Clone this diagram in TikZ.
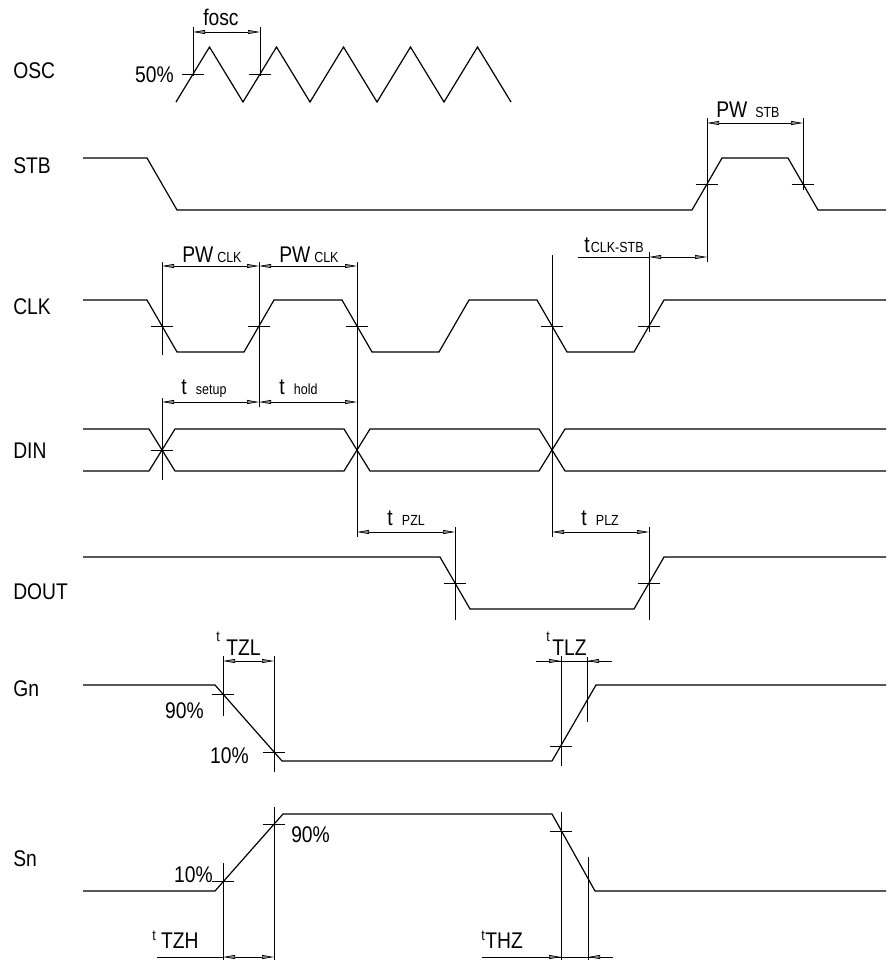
\documentclass[tikz,border=0pt]{standalone}
\usepackage{fontspec}
\setmainfont[FakeStretch=0.85]{Liberation Sans}
\usetikzlibrary{arrows.meta}
\newcommand{\bigf}{\fontsize{17}{17}\selectfont}
\newcommand{\smallf}{\fontsize{11}{11}\selectfont}
\newcommand{\tup}[1]{\raisebox{#1}{\smallf t}}
\tikzstyle{wave}=[draw,line width=0.9pt]
\tikzstyle{extline}=[draw,line width=0.5pt]
\tikzstyle{tick}=[draw,line width=0.5pt]
\tikzstyle{dimline}=[draw,line width=0.5pt,{Triangle[length=9pt,width=3pt,fill=black!45]}-{Triangle[length=9pt,width=3pt,fill=black!45]}]
\tikzstyle{dimtip}=[draw,line width=0.5pt,-{Triangle[length=9pt,width=3pt,fill=black!45]}]
\tikzstyle{signame}=[anchor=base west,inner sep=0pt,font=\bigf]
\tikzstyle{dimtext}=[anchor=base west,inner sep=0pt,font=\bigf]

\begin{document}
\begin{tikzpicture}[x=0.75pt,y=-0.75pt]
\useasboundingbox (0,0) rectangle (886,960);

     \foreach \pos/\name/\label in {{(13,78)/osc/OSC}, {(13,173)/stb/STB}, {(13,314)/clk/CLK}, {(13,458)/din/DIN}, {(13,599)/dout/DOUT}, {(13,696)/gn/Gn}, {(13,866)/sn/Sn}}
        \node[signame] (\name) at \pos {\label};

  % waveforms
  \path[wave] (176,102) \foreach \p in {0,...,4} {-- ({209.5+67*\p},47) -- ({243+67*\p},102)};
  \path[wave] (83,158) -- (147,158) -- (177,210) -- (692,210) -- (722,158) -- (788,158) -- (818,210) -- (886,210);
  \path[wave] (83,300) -- (147,300) -- (177,352) -- (244,352) -- (274,300) -- (342,300) -- (372,352) -- (439,352) -- (469,300) -- (537,300) -- (567,352) -- (634,352) -- (664,300) -- (886,300);
  \path[wave] (83,429) -- (149,429) -- (175,471) -- (344,471) -- (370,429) -- (539,429) -- (565,471) -- (886,471);
  \path[wave] (83,471) -- (149,471) -- (175,429) -- (344,429) -- (370,471) -- (539,471) -- (565,429) -- (886,429);
  \path[wave] (83,557) -- (440,557) -- (470,609) -- (634,609) -- (664,557) -- (886,557);
  \path[wave] (83,685) -- (215,685) -- (282,761) -- (552,761) -- (596,685) -- (886,685);
  \path[wave] (83,891) -- (215,891) -- (283,814) -- (552,814) -- (595,891) -- (886,891);

  % crossing marks
     \foreach \pos/\name in {{(193,74)/oscA}, {(260,74)/oscB}, {(707,184)/stbA}, {(803,184)/stbB}, {(162,326)/clkA}, {(259,326)/clkB}, {(357,326)/clkC}, {(552,326)/clkD}, {(649,326)/clkE}, {(162,450)/dinA}, {(455,583)/doutA}, {(649,583)/doutB}, {(223,694)/gnA}, {(274,752)/gnB}, {(561,746)/gnC}, {(223,881)/snA}, {(274,824)/snB}, {(561,831)/snC}}
        \path \pos coordinate (\name);
  \foreach \name in {oscA,oscB,stbA,stbB,clkA,clkB,clkC,clkD,clkE,dinA,doutA,doutB,gnA,gnB,gnC,snA,snB,snC}
        \path[tick] ([xshift=-8.5pt]\name) -- ([xshift=8.5pt]\name);

  % extension lines
  \foreach \x/\ya/\yb in {193/27/76, 260/27/76, 707/118/262, 803/118/190, 162/262/355, 162/398/480, 259/262/407, 357/262/537, 552/255/537, 649/252/332, 455/527/620, 649/527/620, 223/656/716, 274/656/772, 561/656/766, 587/657/722, 223/863/962, 274/807/962, 561/812/962, 588/857/962}
        \path[extline] (\x,\ya) -- (\x,\yb);

  % dimensions
  \foreach \a/\b/\y in {193/260/32, 707/803/123, 162/259/266, 259/357/266, 162/259/402, 259/357/402, 357/455/532, 552/649/532, 223/274/661}
        \path[dimline] (\a,\y) -- (\b,\y);
  \path[extline] (578,257) -- (649,257);
  \path[dimline] (649,257) -- (707,257);
  \path[extline] (157,957) -- (223,957);
  \path[dimline] (223,957) -- (274,957);
  \path[extline] (536,661) -- (612,661);
  \path[dimtip] (536,661) -- (561,661);
  \path[dimtip] (612,661) -- (587,661);
  \path[extline] (482,957) -- (613,957);
  \path[dimtip] (482,957) -- (561,957);
  \path[dimtip] (613,957) -- (588,957);

  % texts
  \node[dimtext] (fosc) at (203,25) {fosc};
  \node[dimtext,anchor=base east] (oscpct) at (174,82) {50\%};
  \node[dimtext] (pwstb) at (716,117) {PW\hspace{6pt}{\smallf STB}};
  \node[dimtext] (tclkstb) at (584,252) {t\hspace{1pt}{\smallf CLK-STB}};
  \node[dimtext] (pwclkA) at (182,262) {PW\hspace{3pt}{\smallf CLK}};
  \node[dimtext] (pwclkB) at (279,262) {PW\hspace{3pt}{\smallf CLK}};
  \node[dimtext] (tsetup) at (181,394) {t\hspace{7pt}{\smallf setup}};
  \node[dimtext] (thold) at (279,394) {t\hspace{7pt}{\smallf hold}};
  \node[dimtext] (tpzl) at (387,525) {t\hspace{7pt}{\smallf PZL}};
  \node[dimtext] (tplz) at (581,525) {t\hspace{7pt}{\smallf PLZ}};
  \node[dimtext] (ttzl) at (216,655) {\tup{10pt}\hspace{5pt}TZL};
  \node[dimtext] (ttlz) at (546,655) {\tup{10pt}\hspace{2pt}TLZ};
  \node[dimtext,anchor=base east] (gnhi) at (204,718) {90\%};
  \node[dimtext,anchor=base east] (gnlo) at (249,763) {10\%};
  \node[dimtext] (snhi) at (291,842) {90\%};
  \node[dimtext,anchor=base east] (snlo) at (213,882) {10\%};
  \node[dimtext] (ttzh) at (152,948) {\tup{6pt}\hspace{4pt}TZH};
  \node[dimtext] (tthz) at (481,948) {\tup{6pt}\hspace{0.5pt}THZ};

\end{tikzpicture}
\end{document}
